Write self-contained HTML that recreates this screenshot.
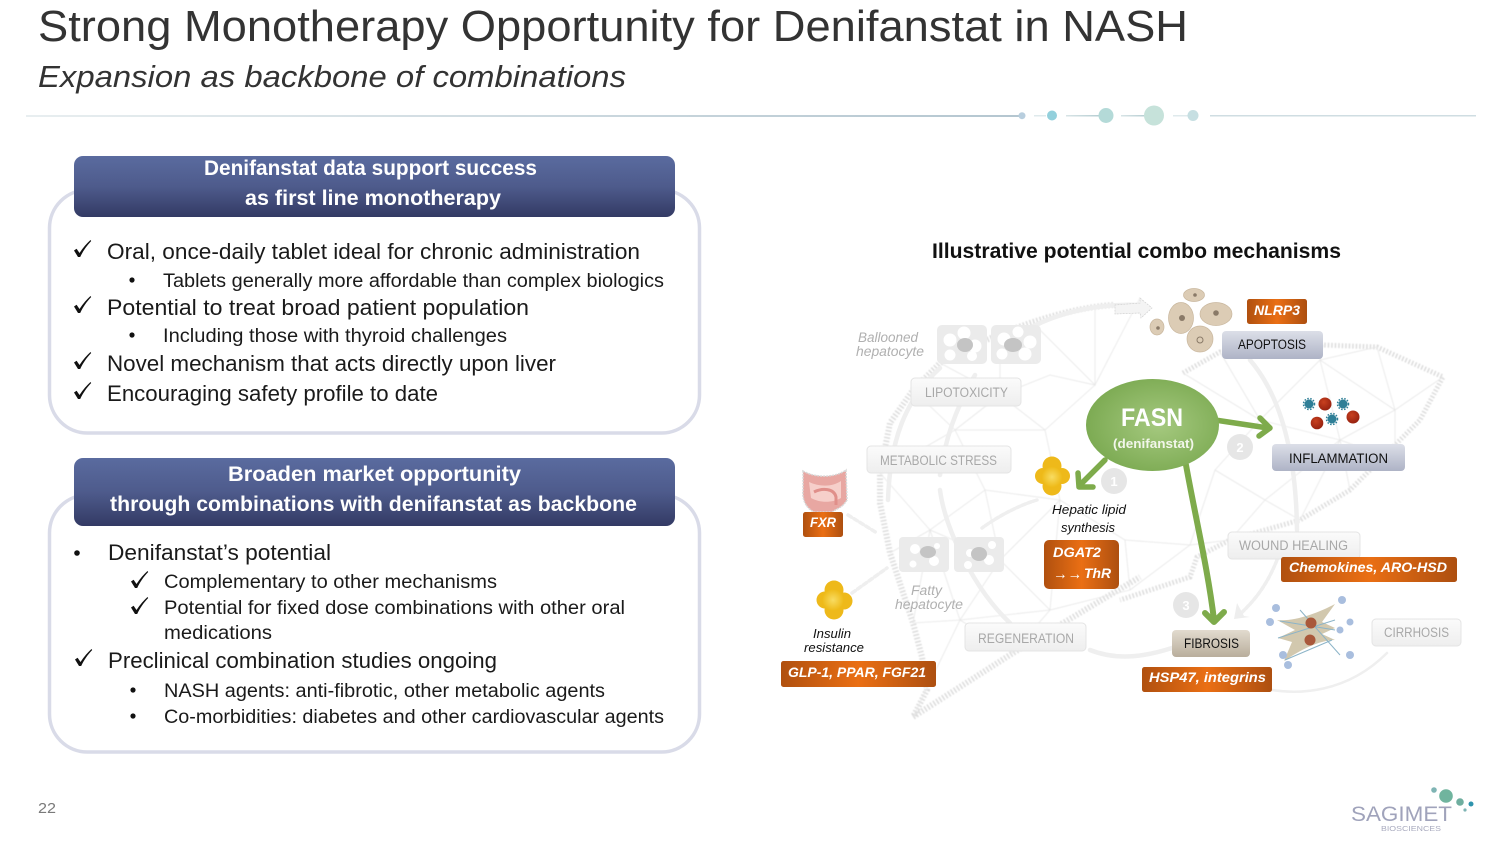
<!DOCTYPE html>
<html lang="en"><head><meta charset="utf-8"><title>Strong Monotherapy Opportunity for Denifanstat in NASH</title>
<style>html,body{margin:0;padding:0;background:#fff}svg{display:block}text{font-family:"Liberation Sans",sans-serif}</style></head>
<body>
<svg xmlns="http://www.w3.org/2000/svg" width="1500" height="844" viewBox="0 0 1500 844">
<defs>
<linearGradient id="hd" x1="0" y1="0" x2="0" y2="1"><stop offset="0" stop-color="#5a6b9f"/><stop offset=".5" stop-color="#4e5b8c"/><stop offset="1" stop-color="#333a64"/></linearGradient>
<linearGradient id="or" x1="0" y1="0" x2="1" y2="0"><stop offset="0" stop-color="#b0500f"/><stop offset=".5" stop-color="#ea6f14"/><stop offset="1" stop-color="#ad4f10"/></linearGradient>
<linearGradient id="bl" x1="0" y1="0" x2="0" y2="1"><stop offset="0" stop-color="#dcdfe8"/><stop offset="1" stop-color="#aeb3c6"/></linearGradient>
<linearGradient id="tn" x1="0" y1="0" x2="0" y2="1"><stop offset="0" stop-color="#e2dbcf"/><stop offset="1" stop-color="#b9ae9c"/></linearGradient>
<linearGradient id="gy" x1="0" y1="0" x2="0" y2="1"><stop offset="0" stop-color="#fbfbfb"/><stop offset="1" stop-color="#eeeeee"/></linearGradient>
<radialGradient id="gr" cx=".55" cy=".5" r=".6"><stop offset="0" stop-color="#a5c97f"/><stop offset="1" stop-color="#79a84f"/></radialGradient>
<radialGradient id="yl" cx=".5" cy=".5" r=".55"><stop offset="0" stop-color="#f8dc62"/><stop offset="1" stop-color="#edb60f"/></radialGradient>
<radialGradient id="rd" cx=".4" cy=".35" r=".7"><stop offset="0" stop-color="#c8401f"/><stop offset="1" stop-color="#94200f"/></radialGradient>
<linearGradient id="dv" x1="0" y1="0" x2="1" y2="0"><stop offset="0" stop-color="#e8eef0"/><stop offset="1" stop-color="#b4c6d0"/></linearGradient>
<linearGradient id="dv2" x1="0" y1="0" x2="1" y2="0"><stop offset="0" stop-color="#d8e4e6"/><stop offset="1" stop-color="#b5cdd2"/></linearGradient>
<filter id="b1"><feGaussianBlur stdDeviation=".4"/></filter>
<path id="ck" d="M0 10.500 L2.600 8.800 L5.500 13 C9 7.500 13 3.200 16.500 0 L17.200 1 C12.500 6 9 11 6.200 17 L4 17 Z"/>
</defs>

<!-- title -->
<text x="38" y="41" font-size="44" fill="#333" textLength="1150" lengthAdjust="spacingAndGlyphs">Strong Monotherapy Opportunity for Denifanstat in NASH</text>
<text x="38" y="87" font-size="31" font-style="italic" fill="#333" textLength="588" lengthAdjust="spacingAndGlyphs">Expansion as backbone of combinations</text>

<!-- divider -->
<rect x="26" y="115" width="994" height="2" fill="url(#dv)"/>
<rect x="1034" y="115" width="12" height="1.500" fill="#dfeaec"/>
<rect x="1066" y="115" width="34" height="1.500" fill="url(#dv2)"/>
<rect x="1121" y="115" width="26" height="1.500" fill="url(#dv2)"/>
<rect x="1173" y="115" width="15" height="1.500" fill="#dfeaec"/>
<rect x="1210" y="115" width="266" height="1.500" fill="#cfdde2"/>
<circle cx="1022" cy="115.700" r="3.500" fill="#b8cede"/>
<circle cx="1052" cy="115.500" r="5" fill="#93d0dc"/>
<circle cx="1106" cy="115.500" r="7.500" fill="#b4dad8"/>
<circle cx="1154" cy="115.500" r="10" fill="#c6e2da"/>
<circle cx="1193" cy="115.500" r="5.500" fill="#c6dfe2"/>

<!-- box 1 -->
<rect x="49.500" y="190" width="650" height="243" rx="38" fill="#fff" stroke="#d9dbe8" stroke-width="3.500"/>
<rect x="74" y="156" width="601" height="61" rx="9" fill="url(#hd)"/>
<g fill="#fff" font-weight="bold" font-size="21">
<text x="204" y="175" textLength="333" lengthAdjust="spacingAndGlyphs">Denifanstat data support success</text>
<text x="245" y="205" textLength="256" lengthAdjust="spacingAndGlyphs">as first line monotherapy</text>
</g>
<g fill="#1a1a1a" font-size="22">
<text x="107" y="259" textLength="533" lengthAdjust="spacingAndGlyphs">Oral, once-daily tablet ideal for chronic administration</text>
<text x="107" y="315" textLength="422" lengthAdjust="spacingAndGlyphs">Potential to treat broad patient population</text>
<text x="107" y="371" textLength="449" lengthAdjust="spacingAndGlyphs">Novel mechanism that acts directly upon liver</text>
<text x="107" y="401" textLength="331" lengthAdjust="spacingAndGlyphs">Encouraging safety profile to date</text>
</g>
<g fill="#1a1a1a" font-size="19">
<text x="163" y="287" textLength="501" lengthAdjust="spacingAndGlyphs">Tablets generally more affordable than complex biologics</text>
<text x="163" y="342" textLength="344" lengthAdjust="spacingAndGlyphs">Including those with thyroid challenges</text>
</g>
<circle cx="132" cy="280" r="2.600" fill="#111"/><circle cx="132" cy="335" r="2.600" fill="#111"/>

<!-- box 2 -->
<rect x="49.500" y="495" width="650" height="257" rx="38" fill="#fff" stroke="#d9dbe8" stroke-width="3.500"/>
<rect x="74" y="458" width="601" height="68" rx="9" fill="url(#hd)"/>
<g fill="#fff" font-weight="bold" font-size="21">
<text x="228" y="481" textLength="293" lengthAdjust="spacingAndGlyphs">Broaden market opportunity</text>
<text x="110" y="511" textLength="527" lengthAdjust="spacingAndGlyphs">through combinations with denifanstat as backbone</text>
</g>
<g fill="#1a1a1a" font-size="22">
<text x="108" y="560" textLength="223" lengthAdjust="spacingAndGlyphs">Denifanstat’s potential</text>
<text x="108" y="668" textLength="389" lengthAdjust="spacingAndGlyphs">Preclinical combination studies ongoing</text>
</g>
<g fill="#1a1a1a" font-size="19">
<text x="164" y="588" textLength="333" lengthAdjust="spacingAndGlyphs">Complementary to other mechanisms</text>
<text x="164" y="614" textLength="461" lengthAdjust="spacingAndGlyphs">Potential for fixed dose combinations with other oral</text>
<text x="164" y="639" textLength="108" lengthAdjust="spacingAndGlyphs">medications</text>
<text x="164" y="697" textLength="441" lengthAdjust="spacingAndGlyphs">NASH agents: anti-fibrotic, other metabolic agents</text>
<text x="164" y="723" textLength="500" lengthAdjust="spacingAndGlyphs">Co-morbidities: diabetes and other cardiovascular agents</text>
</g>
<circle cx="77" cy="553" r="2.800" fill="#111"/><circle cx="133" cy="690" r="2.600" fill="#111"/><circle cx="133" cy="716" r="2.600" fill="#111"/>

<!-- checks -->
<g fill="#111">
<use href="#ck" x="74" y="240"/>
<use href="#ck" x="74" y="296"/>
<use href="#ck" x="74" y="352"/>
<use href="#ck" x="74" y="382"/>
<use href="#ck" x="131" y="571"/>
<use href="#ck" x="131" y="597"/>
<use href="#ck" x="75" y="649"/>
</g>

<!-- diagram heading -->
<text x="932" y="258" font-size="21.500" font-weight="bold" fill="#111" textLength="409" lengthAdjust="spacingAndGlyphs">Illustrative potential combo mechanisms</text>

<!-- liver mesh -->
<g fill="none" filter="url(#b1)">
<path d="M1113 305 C1060 308 990 335 940 363 L913 390 L890 423 L880 473 L880 503 L890 553 L913 623 L922 657 L927 690 L913 717 L1013 653 L1140 577" stroke="#dcdcdc" stroke-width="6" stroke-dasharray="1.500 2"/>
<path d="M1183 373 L1220 352 L1323 345 L1377 347 L1443 377 L1420 420 L1350 490 L1300 520 L1230 540 L1197 557 L1190 577 L1120 600" stroke="#dcdcdc" stroke-width="5" stroke-dasharray="1.500 2"/>
<g stroke="#e6e6e6" stroke-width=".8">
<path d="M940 363 L1000 395 L1050 375 L1095 385 L1033 323 M1000 335 L1000 395 L1045 430 L1095 385 M1000 395 L955 430 L1045 430 L1060 500 L985 490 L955 430 L913 390 M955 430 L880 473 L930 530 L985 490 L1000 560 L930 530 L890 553 M1060 500 L1000 560 L1050 610 L1130 590 L1125 540 L1060 500 L1050 610 M1125 540 L1190 545 L1130 590 M1000 560 L960 620 L1050 610 L1013 653 L960 620 L913 717 M930 530 L960 620 L913 623 L930 530 M1095 305 L1095 385 M1140 298 L1095 385"/>
<path d="M1183 373 L1260 420 L1320 360 L1377 347 L1395 410 L1443 377 M1220 352 L1260 420 L1215 470 L1265 500 L1230 540 M1323 345 L1320 360 L1395 410 L1395 460 L1340 440 L1265 500 L1300 520 L1340 440 L1350 490 M1320 360 L1340 440 L1260 420 M1215 470 L1190 545 L1230 540 M1395 410 L1340 440"/>
</g>
</g>
<!-- pale arcs -->
<g fill="none" stroke="#efefef" stroke-width="4.500" stroke-linecap="round">
<path d="M1030 328 C1060 312 1100 303 1140 305"/>
<path d="M1250 360 C1280 395 1296 450 1297 530"/>
<path d="M940 368 C905 400 890 440 888 500"/>
<path d="M975 375 C955 410 945 440 940 475"/>
<path d="M940 490 C945 530 975 590 1010 623"/>
<path d="M1090 650 C1120 662 1150 655 1172 648"/>
<path d="M1277 560 C1265 590 1250 605 1237 617" stroke-width="3.500" stroke-dasharray="4 2"/>
<path d="M1250 685 C1300 700 1350 690 1387 653" stroke-width="2.500"/>
<path d="M1037 500 C1020 505 1000 515 982 528" stroke-width="3.500" stroke-dasharray="4 2"/>
<path d="M848 515 L877 533" stroke-dasharray="4 3" stroke-width="3.500"/>
<path d="M852 593 L887 568" stroke-dasharray="4 3" stroke-width="3.500"/>
</g>
<path d="M1140 298 L1152 308 L1141 318 L1140 313 L1115 314 L1115 305 L1140 303Z" fill="#f4f4f4" stroke="#d0d0d0" stroke-width=".7" stroke-dasharray="2 1"/>
<path d="M1237 603 L1244 616 L1250 617 L1234 619Z" fill="#eee"/>

<!-- cells -->
<g fill="#ebebeb">
<rect x="937" y="325" width="50" height="39" rx="5"/><rect x="991" y="325" width="50" height="39" rx="5"/>
<rect x="899" y="537" width="50" height="35" rx="4"/><rect x="954" y="537" width="50" height="35" rx="4"/>
</g>
<g fill="#fff">
<circle cx="950" cy="340" r="6.500"/><circle cx="964" cy="333" r="6.500"/><circle cx="975" cy="346" r="6.500"/><circle cx="950" cy="355" r="5.500"/><circle cx="972" cy="356" r="5"/>
<circle cx="1004" cy="339" r="6.500"/><circle cx="1018" cy="332" r="5.500"/><circle cx="1030" cy="342" r="6.500"/><circle cx="1002" cy="354" r="5.500"/><circle cx="1025" cy="354" r="6.500"/>
<circle cx="915" cy="549" r="5"/><circle cx="934" cy="561" r="5"/><circle cx="913" cy="564" r="3.500"/><circle cx="937" cy="546" r="3"/>
<circle cx="970" cy="553" r="4"/><circle cx="989" cy="560" r="5"/><circle cx="992" cy="545" r="4"/><circle cx="968" cy="565" r="4"/>
</g>
<g fill="#c4c4c4">
<ellipse cx="965" cy="345" rx="8" ry="7"/><ellipse cx="1013" cy="345" rx="9" ry="7"/><ellipse cx="928" cy="552" rx="8" ry="6"/><ellipse cx="979" cy="554" rx="8" ry="7"/>
</g>
<g font-style="italic" fill="#b0b0b0" font-size="13.500">
<text x="858" y="342" textLength="60" lengthAdjust="spacingAndGlyphs">Ballooned</text>
<text x="856" y="356" textLength="68" lengthAdjust="spacingAndGlyphs">hepatocyte</text>
<text x="911" y="595" textLength="31" lengthAdjust="spacingAndGlyphs">Fatty</text>
<text x="895" y="609" textLength="68" lengthAdjust="spacingAndGlyphs">hepatocyte</text>
</g>

<!-- grey boxes -->
<g fill="url(#gy)" stroke="#e4e4e4" stroke-width="1">
<rect x="911" y="378" width="110" height="28" rx="4"/>
<rect x="867" y="446" width="144" height="27" rx="4"/>
<rect x="965" y="623" width="121" height="28" rx="4"/>
<rect x="1228" y="532" width="132" height="27" rx="4"/>
<rect x="1372" y="619" width="89" height="27" rx="4"/>
</g>
<g fill="#a8a8a8" font-size="13.500">
<text x="925" y="397" textLength="83" lengthAdjust="spacingAndGlyphs">LIPOTOXICITY</text>
<text x="880" y="465" textLength="117" lengthAdjust="spacingAndGlyphs">METABOLIC STRESS</text>
<text x="978" y="643" textLength="96" lengthAdjust="spacingAndGlyphs">REGENERATION</text>
<text x="1239" y="550" textLength="109" lengthAdjust="spacingAndGlyphs">WOUND HEALING</text>
<text x="1384" y="637" textLength="65" lengthAdjust="spacingAndGlyphs">CIRRHOSIS</text>
</g>

<!-- numbered circles -->
<g fill="#e6e6e6"><circle cx="1114" cy="481" r="13"/><circle cx="1240" cy="447" r="13"/><circle cx="1186" cy="605" r="13"/></g>
<g fill="#fff" font-size="13" font-weight="bold" text-anchor="middle"><text x="1114" y="486">1</text><text x="1240" y="452">2</text><text x="1186" y="610">3</text></g>

<!-- green arrows -->
<g fill="none" stroke="#7eab4b" stroke-linecap="round" stroke-linejoin="round">
<path d="M1105 460 L1080 485" stroke-width="5.500"/><path d="M1078 473 L1079 487 L1093 487" stroke-width="5.500"/>
<path d="M1215 420 L1268 428" stroke-width="5.500"/><path d="M1260 418 L1270 428 L1259 436" stroke-width="5.500"/>
<path d="M1186 465 C1196 520 1208 570 1214 620" stroke-width="6"/><path d="M1205 613 L1214 622 L1224 612" stroke-width="6"/>
</g>

<!-- FASN -->
<ellipse cx="1152.500" cy="425" rx="66.500" ry="46" fill="url(#gr)"/>
<text x="1121" y="426" font-size="25" font-weight="bold" fill="#fff" textLength="62" lengthAdjust="spacingAndGlyphs">FASN</text>
<text x="1113" y="448" font-size="13" font-weight="bold" fill="#f2f6ea" textLength="81" lengthAdjust="spacingAndGlyphs">(denifanstat)</text>

<!-- apoptosis cells -->
<g fill="#dcccb5" stroke="#c9b79e" stroke-width=".7">
<ellipse cx="1194" cy="295" rx="10.500" ry="6.500"/>
<ellipse cx="1181" cy="318" rx="12.500" ry="15.500"/>
<ellipse cx="1216" cy="314" rx="16" ry="11.500"/>
<ellipse cx="1157" cy="327" rx="7" ry="8"/>
<ellipse cx="1200" cy="339" rx="13" ry="13"/>
</g>
<g fill="#8a7a68"><circle cx="1195" cy="295" r="1.800"/><circle cx="1182" cy="318" r="3"/><circle cx="1216" cy="313" r="2.800"/><circle cx="1158" cy="328" r="1.800"/></g>
<circle cx="1200" cy="340" r="3" fill="none" stroke="#8a7a68" stroke-width="1"/>

<!-- inflammation cells -->
<g fill="url(#rd)"><circle cx="1325" cy="404" r="6.500"/><circle cx="1317" cy="423" r="6.300"/><circle cx="1353" cy="417" r="6.500"/></g>
<g fill="#2f7f97"><circle cx="1309" cy="404" r="4.500"/><circle cx="1343" cy="404" r="4.500"/><circle cx="1332" cy="419" r="4.500"/></g>
<g fill="none" stroke="#2f7f97" stroke-width="1.500" stroke-dasharray="1.500 1.500"><circle cx="1309" cy="404" r="5.500"/><circle cx="1343" cy="404" r="5.500"/><circle cx="1332" cy="419" r="5.500"/></g>

<!-- intestine -->
<path d="M803 471 C815 478 835 478 846 470 L847 500 C842 508 838 508 832 512 L814 512 C806 508 802 500 803 490Z" fill="#e8a7a2" stroke="#d8d8d8" stroke-width="1.500" stroke-dasharray="2 1"/>
<path d="M809 482 C820 487 832 487 841 481 L841 498 C832 503 820 503 811 498Z" fill="#f6cfca"/>
<path d="M814 492 C822 488 834 488 836 497 L836 505" fill="none" stroke="#e08f8a" stroke-width="3"/>

<!-- yellow clusters -->
<g fill="#eeb91a">
<circle cx="1052" cy="466" r="9.500"/><circle cx="1043" cy="476" r="8"/><circle cx="1062" cy="476" r="8"/><circle cx="1052" cy="486" r="9.500"/>
<circle cx="834" cy="590" r="9.500"/><circle cx="825" cy="600" r="8.500"/><circle cx="844" cy="601" r="8.500"/><circle cx="834" cy="610" r="9.500"/>
</g>
<circle cx="1052" cy="477" r="10.500" fill="url(#yl)"/><circle cx="833" cy="600" r="11" fill="url(#yl)"/>

<!-- fibroblast -->
<g fill="#d2c8ae">
<path d="M1277 620 C1295 622 1320 612 1335 604 L1322 622 L1335 628 L1322 634 L1335 640 C1320 640 1300 650 1284 661 L1292 642 L1278 638 L1295 630Z"/>
</g>
<g fill="none" stroke="#8cb4c8" stroke-width="1"><path d="M1280 621 L1335 630 M1278 638 L1335 620 M1285 660 L1332 640 M1300 610 L1340 655"/></g>
<g fill="#a9bede"><circle cx="1342" cy="600" r="4"/><circle cx="1276" cy="608" r="4"/><circle cx="1270" cy="622" r="4"/><circle cx="1350" cy="622" r="3.500"/><circle cx="1283" cy="655" r="4"/><circle cx="1288" cy="665" r="4"/><circle cx="1350" cy="655" r="4"/><circle cx="1340" cy="630" r="3.500"/></g>
<circle cx="1311" cy="623" r="5.500" fill="#a9583a"/><circle cx="1310" cy="640" r="5.500" fill="#a9583a"/>

<!-- dark boxes -->
<rect x="1222" y="331" width="101" height="28" rx="4" fill="url(#bl)"/>
<rect x="1272" y="444" width="133" height="27" rx="4" fill="url(#bl)"/>
<rect x="1172" y="630" width="78" height="27" rx="4" fill="url(#tn)"/>
<g fill="#111" font-size="13.500">
<text x="1238" y="349" textLength="68" lengthAdjust="spacingAndGlyphs">APOPTOSIS</text>
<text x="1289" y="463" textLength="99" lengthAdjust="spacingAndGlyphs">INFLAMMATION</text>
<text x="1184" y="648" textLength="55" lengthAdjust="spacingAndGlyphs">FIBROSIS</text>
</g>

<!-- orange boxes -->
<g fill="url(#or)">
<rect x="1247" y="299" width="60" height="25" rx="2.500"/>
<rect x="803" y="512" width="40" height="25" rx="2.500"/>
<rect x="1044" y="540" width="75" height="49" rx="5"/>
<rect x="781" y="661" width="155" height="26" rx="2.500"/>
<rect x="1281" y="557" width="176" height="25" rx="2.500"/>
<rect x="1142" y="667" width="130" height="25" rx="2.500"/>
</g>
<g fill="#fff" font-style="italic" font-weight="bold" font-size="14">
<text x="1254" y="315" textLength="46" lengthAdjust="spacingAndGlyphs">NLRP3</text>
<text x="810" y="527" textLength="26" lengthAdjust="spacingAndGlyphs">FXR</text>
<text x="1053" y="557" textLength="48" lengthAdjust="spacingAndGlyphs">DGAT2</text>
<text x="1053" y="579" font-size="16" font-style="normal" font-weight="normal" textLength="29" lengthAdjust="spacingAndGlyphs">→→</text>
<text x="1084" y="578" textLength="27" lengthAdjust="spacingAndGlyphs">ThR</text>
<text x="788" y="677" textLength="138" lengthAdjust="spacingAndGlyphs">GLP-1, PPAR, FGF21</text>
<text x="1289" y="572" textLength="158" lengthAdjust="spacingAndGlyphs">Chemokines, ARO-HSD</text>
<text x="1149" y="682" textLength="117" lengthAdjust="spacingAndGlyphs">HSP47, integrins</text>
</g>

<!-- italic captions -->
<g font-style="italic" fill="#111" font-size="13">
<text x="1052" y="514" textLength="74" lengthAdjust="spacingAndGlyphs">Hepatic lipid</text>
<text x="1061" y="532" textLength="54" lengthAdjust="spacingAndGlyphs">synthesis</text>
<text x="813" y="638" textLength="38" lengthAdjust="spacingAndGlyphs">Insulin</text>
<text x="804" y="652" textLength="60" lengthAdjust="spacingAndGlyphs">resistance</text>
</g>

<!-- page number -->
<text x="38" y="813" font-size="15" fill="#7a7a7a" textLength="18" lengthAdjust="spacingAndGlyphs">22</text>

<!-- logo -->
<text x="1351" y="821" font-size="21" fill="#a0a3bb" textLength="101" lengthAdjust="spacingAndGlyphs">SAGIMET</text>
<text x="1381" y="831" font-size="7.500" fill="#a9abbf" textLength="60" lengthAdjust="spacingAndGlyphs">BIOSCIENCES</text>
<circle cx="1434" cy="790" r="2.800" fill="#7fb4b4"/><circle cx="1446" cy="796" r="6.800" fill="#70b49e"/><circle cx="1460" cy="802" r="3.800" fill="#6fae9f"/><circle cx="1471" cy="804" r="2.500" fill="#2f93ad"/><circle cx="1465" cy="810" r="1.600" fill="#7fb4b4"/>
</svg>
</body></html>
